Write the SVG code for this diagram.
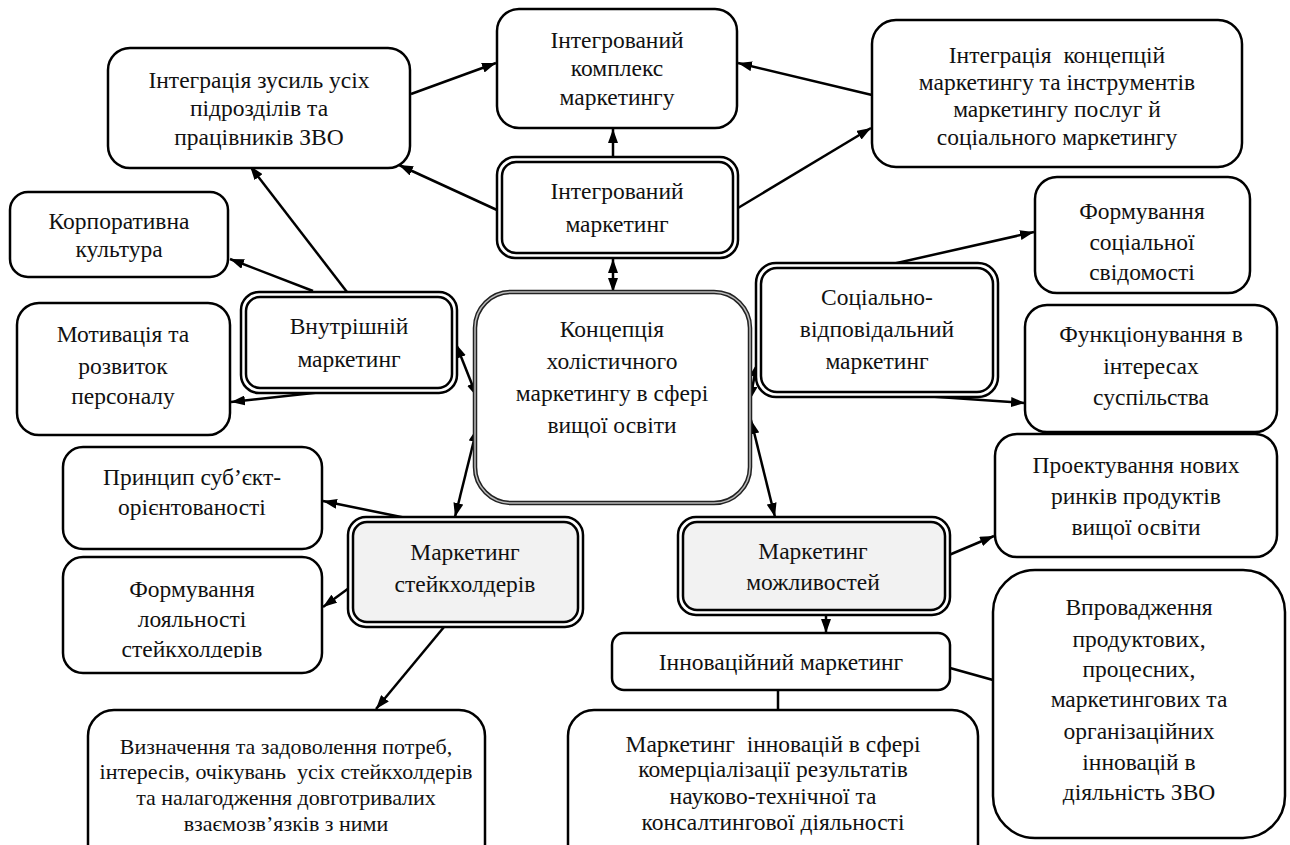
<svg xmlns="http://www.w3.org/2000/svg" width="1290" height="845" viewBox="0 0 1290 845">
<style>
text{font-family:"Liberation Serif","Times New Roman","DejaVu Serif",serif;font-size:23.5px;fill:#111;text-anchor:middle;white-space:pre}
.sm{font-size:22px}
.box{fill:#fff;stroke:#000;stroke-width:2.5}
.dbo{fill:#fff;stroke:#000;stroke-width:2.5}
.dbi{fill:#fff;stroke:#000;stroke-width:2.5}
.gray{fill:#f2f2f2}
.cn{stroke:#000;stroke-width:2.5;fill:none}
.a1{marker-end:url(#ah)}
.a2{marker-start:url(#ah);marker-end:url(#ah)}
</style>
<defs>
<marker id="ah" viewBox="0 0 14 10" refX="14" refY="5" markerWidth="14" markerHeight="10" orient="auto-start-reverse" markerUnits="userSpaceOnUse"><path d="M0,0 L14,5 L0,10 z" fill="#000"/></marker>
<clipPath id="clipLoy"><rect x="60" y="555" width="265" height="103"/></clipPath>
</defs>

<g id="connectors">
<line class="cn a1" x1="613" y1="158" x2="613" y2="129"/>
<line class="cn a1" x1="497" y1="210" x2="399" y2="165"/>
<line class="cn a1" x1="411" y1="94" x2="496" y2="63"/>
<line class="cn a1" x1="872" y1="95" x2="738" y2="63"/>
<line class="cn a1" x1="738" y1="208" x2="871" y2="128"/>
<line class="cn a2" x1="613" y1="259" x2="613" y2="292"/>
<line class="cn a1" x1="347" y1="292" x2="250" y2="166"/>
<line class="cn a1" x1="313" y1="291" x2="230" y2="259"/>
<line class="cn a1" x1="350" y1="389" x2="231" y2="402"/>
<line class="cn a2" x1="456" y1="344" x2="477" y2="397"/>
<line class="cn a2" x1="477" y1="428" x2="455" y2="517"/>
<line class="cn a2" x1="757" y1="363" x2="750" y2="400"/>
<line class="cn a2" x1="751" y1="420" x2="775" y2="517"/>
<line class="cn a1" x1="888" y1="265" x2="1034" y2="232"/>
<line class="cn a1" x1="880" y1="393" x2="1025" y2="403"/>
<line class="cn a1" x1="949" y1="555" x2="994" y2="536"/>
<line class="cn a1" x1="826" y1="616" x2="826" y2="633"/>
<line class="cn" x1="950" y1="668" x2="993" y2="680"/>
<line class="cn" x1="778" y1="690" x2="778" y2="710"/>
<line class="cn a1" x1="411" y1="519" x2="323" y2="501"/>
<line class="cn a1" x1="349" y1="588" x2="323" y2="607"/>
<line class="cn a1" x1="444" y1="627" x2="376" y2="709"/>
</g>

<g id="n-integr-zusyl">
<rect class="box" x="108" y="48" width="302" height="120" rx="22"/>
<text x="259" y="88">Інтеграція зусиль усіх</text>
<text x="259" y="116">підрозділів та</text>
<text x="259" y="145">працівників ЗВО</text>
</g>

<g id="n-kompleks">
<rect class="box" x="497" y="9" width="240" height="119" rx="22"/>
<text x="617" y="48">Інтегрований</text>
<text x="617" y="76">комплекс</text>
<text x="617" y="105">маркетингу</text>
</g>

<g id="n-integr-konc">
<rect class="box" x="872" y="20" width="370" height="147" rx="24"/>
<text x="1057" y="63">Інтеграція  концепцій</text>
<text x="1057" y="90">маркетингу та інструментів</text>
<text x="1057" y="117">маркетингу послуг й</text>
<text x="1057" y="145">соціального маркетингу</text>
</g>

<g id="n-form-soc">
<rect class="box" x="1035" y="177" width="215" height="116" rx="22"/>
<text x="1142" y="219">Формування</text>
<text x="1142" y="250">соціальної</text>
<text x="1142" y="280">свідомості</text>
</g>

<g id="n-integr-mark">
<rect class="dbo" x="497" y="157" width="241" height="101" rx="18"/>
<rect class="dbi" x="502" y="162" width="231" height="91" rx="14"/>
<text x="617" y="199">Інтегрований</text>
<text x="617" y="232">маркетинг</text>
</g>

<g id="n-korp">
<rect class="box" x="10" y="192" width="218" height="85" rx="18"/>
<text x="119" y="229">Корпоративна</text>
<text x="119" y="257">культура</text>
</g>

<g id="n-vnutr">
<rect class="dbo" x="241" y="292" width="216" height="101" rx="18"/>
<rect class="dbi" x="246" y="297" width="206" height="91" rx="14"/>
<text x="349" y="334">Внутрішній</text>
<text x="349" y="367">маркетинг</text>
</g>

<g id="n-motyv">
<rect class="box" x="17" y="303" width="213" height="132" rx="22"/>
<text x="123" y="342">Мотивація та</text>
<text x="123" y="374">розвиток</text>
<text x="123" y="404">персоналу</text>
</g>

<g id="n-central">
<rect x="475" y="292" width="275" height="211" rx="36" fill="#fff" stroke="#222" stroke-width="4.5"/>
<rect x="475" y="292" width="275" height="211" rx="36" fill="none" stroke="#bbb" stroke-width="1.5"/>
<text x="612" y="337">Концепція</text>
<text x="612" y="369">холістичного</text>
<text x="612" y="401">маркетингу в сфері</text>
<text x="612" y="433">вищої освіти</text>
</g>

<g id="n-soc-vidp">
<rect class="dbo" x="756" y="263" width="242" height="134" rx="20"/>
<rect class="dbi" x="761" y="268" width="232" height="124" rx="16"/>
<text x="877" y="305">Соціально-</text>
<text x="877" y="337">відповідальний</text>
<text x="877" y="369">маркетинг</text>
</g>

<g id="n-funk">
<rect class="box" x="1025" y="305" width="252" height="127" rx="22"/>
<text x="1151" y="342">Функціонування в</text>
<text x="1151" y="374">інтересах</text>
<text x="1151" y="405">суспільства</text>
</g>

<g id="n-proekt">
<rect class="box" x="995" y="434" width="282" height="123" rx="22"/>
<text x="1136" y="473">Проектування нових</text>
<text x="1136" y="504">ринків продуктів</text>
<text x="1136" y="535">вищої освіти</text>
</g>

<g id="n-pryntsyp">
<rect class="box" x="63" y="447" width="259" height="102" rx="20"/>
<text x="192" y="485">Принцип суб’єкт-</text>
<text x="192" y="515">орієнтованості</text>
</g>

<g id="n-loyal">
<rect class="box" x="63" y="557" width="259" height="116" rx="20"/>
<g clip-path="url(#clipLoy)">
<text x="192" y="597">Формування</text>
<text x="192" y="627">лояльності</text>
<text x="192" y="657">стейкхолдерів</text>
</g>
</g>

<g id="n-steik">
<rect class="dbo" x="348" y="517" width="235" height="110" rx="18"/>
<rect class="dbi gray" x="353" y="522" width="225" height="100" rx="14"/>
<text x="465" y="560">Маркетинг</text>
<text x="465" y="592">стейкхолдерів</text>
</g>

<g id="n-mozhl">
<rect class="dbo" x="678" y="517" width="272" height="98" rx="18"/>
<rect class="dbi gray" x="683" y="522" width="262" height="88" rx="14"/>
<text x="813" y="559">Маркетинг</text>
<text x="813" y="590">можливостей</text>
</g>

<g id="n-innov">
<rect class="box" x="612" y="633" width="338" height="57" rx="12"/>
<text x="781" y="670">Інноваційний маркетинг</text>
</g>

<g id="n-vprov">
<rect class="box" x="993" y="570" width="292" height="268" rx="42"/>
<text x="1139" y="615">Впровадження</text>
<text x="1139" y="647">продуктових,</text>
<text x="1139" y="677">процесних,</text>
<text x="1139" y="707">маркетингових та</text>
<text x="1139" y="739">організаційних</text>
<text x="1139" y="770">інновацій в</text>
<text x="1139" y="800">діяльність ЗВО</text>
</g>

<g id="n-vyznach">
<rect class="box" x="88" y="710" width="397" height="160" rx="26"/>
<text class="sm" x="286" y="754">Визначення та задоволення потреб,</text>
<text class="sm" x="286" y="779">інтересів, очікувань  усіх стейкхолдерів</text>
<text class="sm" x="286" y="805">та налагодження довготривалих</text>
<text class="sm" x="286" y="831">взаємозв’язків з ними</text>
</g>

<g id="n-mark-innov">
<rect class="box" x="568" y="710" width="410" height="160" rx="26"/>
<text x="773" y="752">Маркетинг  інновацій в сфері</text>
<text x="773" y="777">комерціалізації результатів</text>
<text x="773" y="804">науково-технічної та</text>
<text x="773" y="830">консалтингової діяльності</text>
</g>
</svg>
